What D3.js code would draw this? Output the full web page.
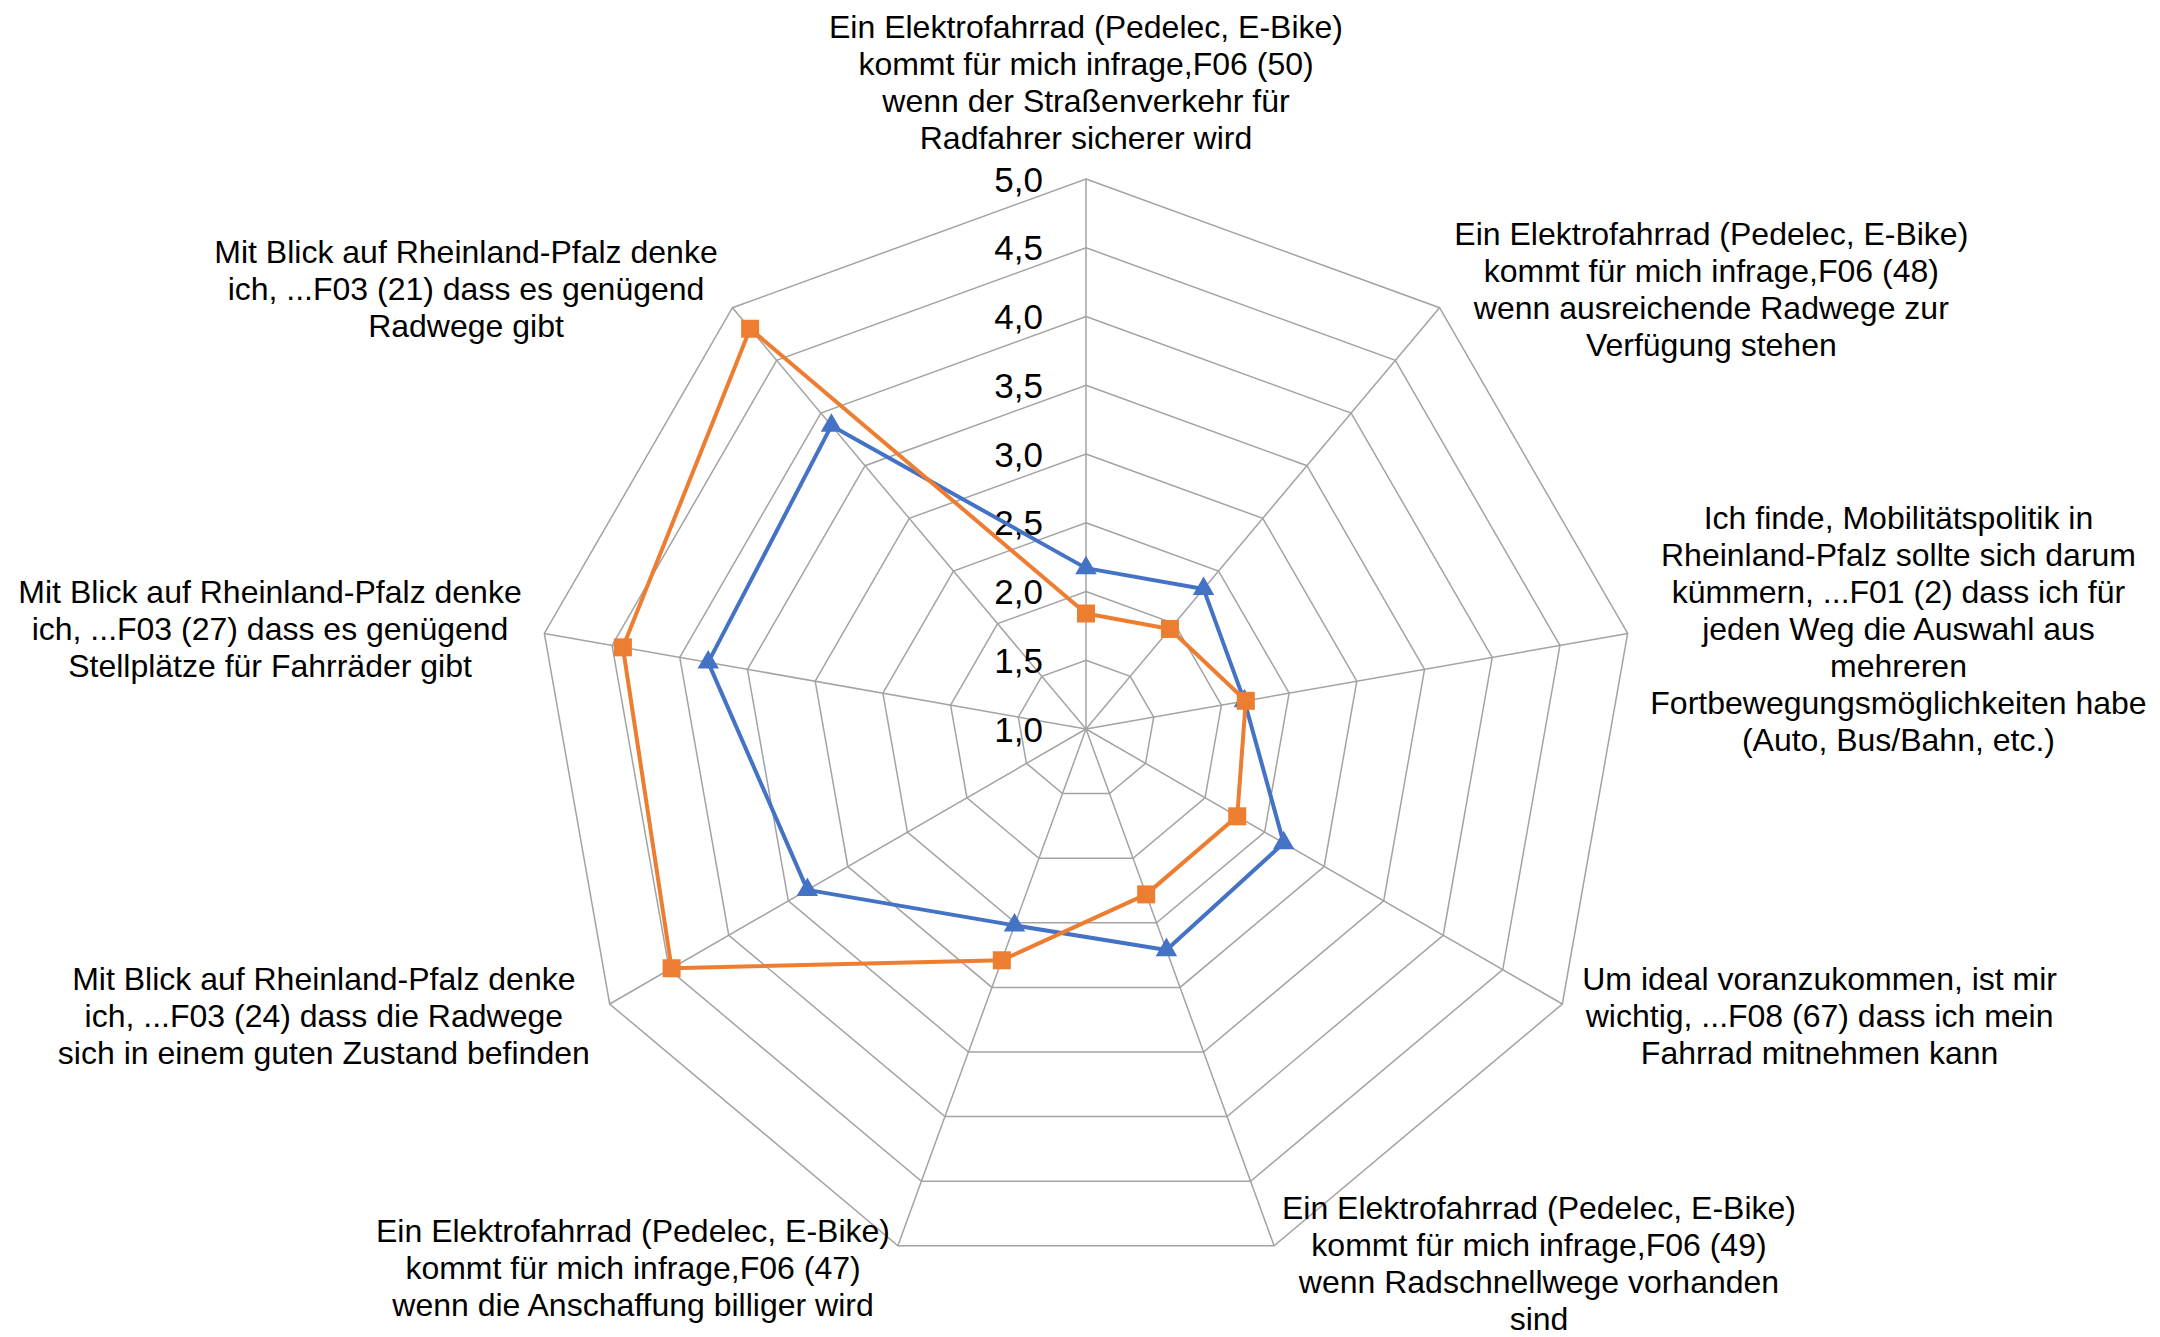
<!DOCTYPE html>
<html>
<head>
<meta charset="utf-8">
<script src="https://cdn.jsdelivr.net/npm/d3@7"></script>
<style>
  html, body { margin: 0; padding: 0; background: #ffffff; }
  svg { display: block; }
  text { font-family: "Liberation Sans", Arial, sans-serif; fill: #000; }
</style>
</head>
<body>
<svg id="chart" width="2160" height="1337"></svg>
<script>
// ---- Data ----
const categories = [
  ["Ein Elektrofahrrad (Pedelec, E-Bike)", "kommt für mich infrage,F06 (50)", "wenn der Straßenverkehr für", "Radfahrer sicherer wird"],
  ["Ein Elektrofahrrad (Pedelec, E-Bike)", "kommt für mich infrage,F06 (48)", "wenn ausreichende Radwege zur", "Verfügung stehen"],
  ["Ich finde, Mobilitätspolitik in", "Rheinland-Pfalz sollte sich darum", "kümmern, ...F01 (2) dass ich für", "jeden Weg die Auswahl aus", "mehreren", "Fortbewegungsmöglichkeiten habe", "(Auto, Bus/Bahn, etc.)"],
  ["Um ideal voranzukommen, ist mir", "wichtig, ...F08 (67) dass ich mein", "Fahrrad mitnehmen kann"],
  ["Ein Elektrofahrrad (Pedelec, E-Bike)", "kommt für mich infrage,F06 (49)", "wenn Radschnellwege vorhanden", "sind"],
  ["Ein Elektrofahrrad (Pedelec, E-Bike)", "kommt für mich infrage,F06 (47)", "wenn die Anschaffung billiger wird"],
  ["Mit Blick auf Rheinland-Pfalz denke", "ich, ...F03 (24) dass die Radwege", "sich in einem guten Zustand befinden"],
  ["Mit Blick auf Rheinland-Pfalz denke", "ich, ...F03 (27) dass es genügend", "Stellplätze für Fahrräder gibt"],
  ["Mit Blick auf Rheinland-Pfalz denke", "ich, ...F03 (21) dass es genügend", "Radwege gibt"]
];
const seriesBlue   = [2.17, 2.33, 2.17, 2.66, 2.71, 2.52, 3.34, 3.79, 3.88];
const seriesOrange = [1.84, 1.95, 2.18, 2.27, 2.28, 2.79, 4.48, 4.42, 4.80];
const tickValues = [1.0, 1.5, 2.0, 2.5, 3.0, 3.5, 4.0, 4.5, 5.0];
const tickLabels = ["1,0", "1,5", "2,0", "2,5", "3,0", "3,5", "4,0", "4,5", "5,0"];

// ---- Layout ----
const W = 2160, H = 1337;
const cx = 1086, cy = 729, R = 550;
const n = categories.length;
const step = 2 * Math.PI / n;
const r = d3.scaleLinear().domain([1, 5]).range([0, R]);
const gridColor = "#a3a3a3";

const svg = d3.select("#chart");
const g = svg.append("g").attr("transform", `translate(${cx},${cy})`);

const idx = d3.range(n);

// rings
const ringLine = d3.lineRadial()
  .angle(i => i * step)
  .curve(d3.curveLinearClosed);

g.append("g").selectAll("path")
  .data(tickValues.slice(1))
  .join("path")
  .attr("d", v => ringLine.radius(() => r(v))(idx))
  .attr("fill", "none")
  .attr("stroke", gridColor)
  .attr("stroke-width", 1.5);

// spokes
g.append("g").selectAll("line")
  .data(idx)
  .join("line")
  .attr("x1", 0).attr("y1", 0)
  .attr("x2", i => r(5) * Math.sin(i * step))
  .attr("y2", i => -r(5) * Math.cos(i * step))
  .attr("stroke", gridColor)
  .attr("stroke-width", 1.5);

// tick labels
g.append("g").selectAll("text")
  .data(tickValues)
  .join("text")
  .attr("x", -43)
  .attr("y", v => -r(v))
  .attr("text-anchor", "end")
  .attr("dominant-baseline", "central")
  .style("font-size", "35px")
  .text((v, i) => tickLabels[i]);

// series
function drawSeries(values, color, symbolType, symSize) {
  const line = d3.lineRadial()
    .angle((d, i) => i * step)
    .radius(d => r(d))
    .curve(d3.curveLinearClosed);
  g.append("path")
    .datum(values)
    .attr("d", line)
    .attr("fill", "none")
    .attr("stroke", color)
    .attr("stroke-width", 4)
    .attr("stroke-linejoin", "round");
  g.append("g").selectAll("path")
    .data(values)
    .join("path")
    .attr("transform", (d, i) => `translate(${r(d) * Math.sin(i * step)},${-r(d) * Math.cos(i * step)})`)
    .attr("d", d3.symbol().type(symbolType).size(symSize))
    .attr("fill", color);
}
drawSeries(seriesBlue, "#4472C4", d3.symbolTriangle, 200);
drawSeries(seriesOrange, "#ED7D31", d3.symbolSquare, 324);

// category labels
const lineH = 37;
const fontSize = 32;
const labelG = svg.append("g");
categories.forEach((lines, i) => {
  const a = i * step;
  const s = Math.sin(a), c = Math.cos(a);
  const vx = cx + R * s, vy = cy - R * c;
  const t = labelG.append("text")
    .attr("text-anchor", "middle")
    .attr("dominant-baseline", "central")
    .style("font-size", fontSize + "px");
  const spans = lines.map(l => t.append("tspan").text(l));
  const maxW = d3.max(spans, sp => sp.node().getComputedTextLength());
  let bx, by;
  if (Math.abs(s) < 0.01) {
    bx = vx;
    by = vy - 41 - (lines.length - 1) / 2 * lineH;
  } else {
    const ax = vx + 23 * s;
    bx = ax + Math.sign(s) * maxW / 2;
    by = vy - 24 * c;
  }
  // keep the block inside the canvas
  const half = (lines.length - 1) / 2 * lineH;
  const maxCenter = H - fontSize * 0.5 - 2 - half;
  if (by > maxCenter) by = maxCenter;
  spans.forEach((sp, k) => {
    sp.attr("x", bx).attr("y", by + (k - (lines.length - 1) / 2) * lineH);
  });
});
</script>
</body>
</html>
